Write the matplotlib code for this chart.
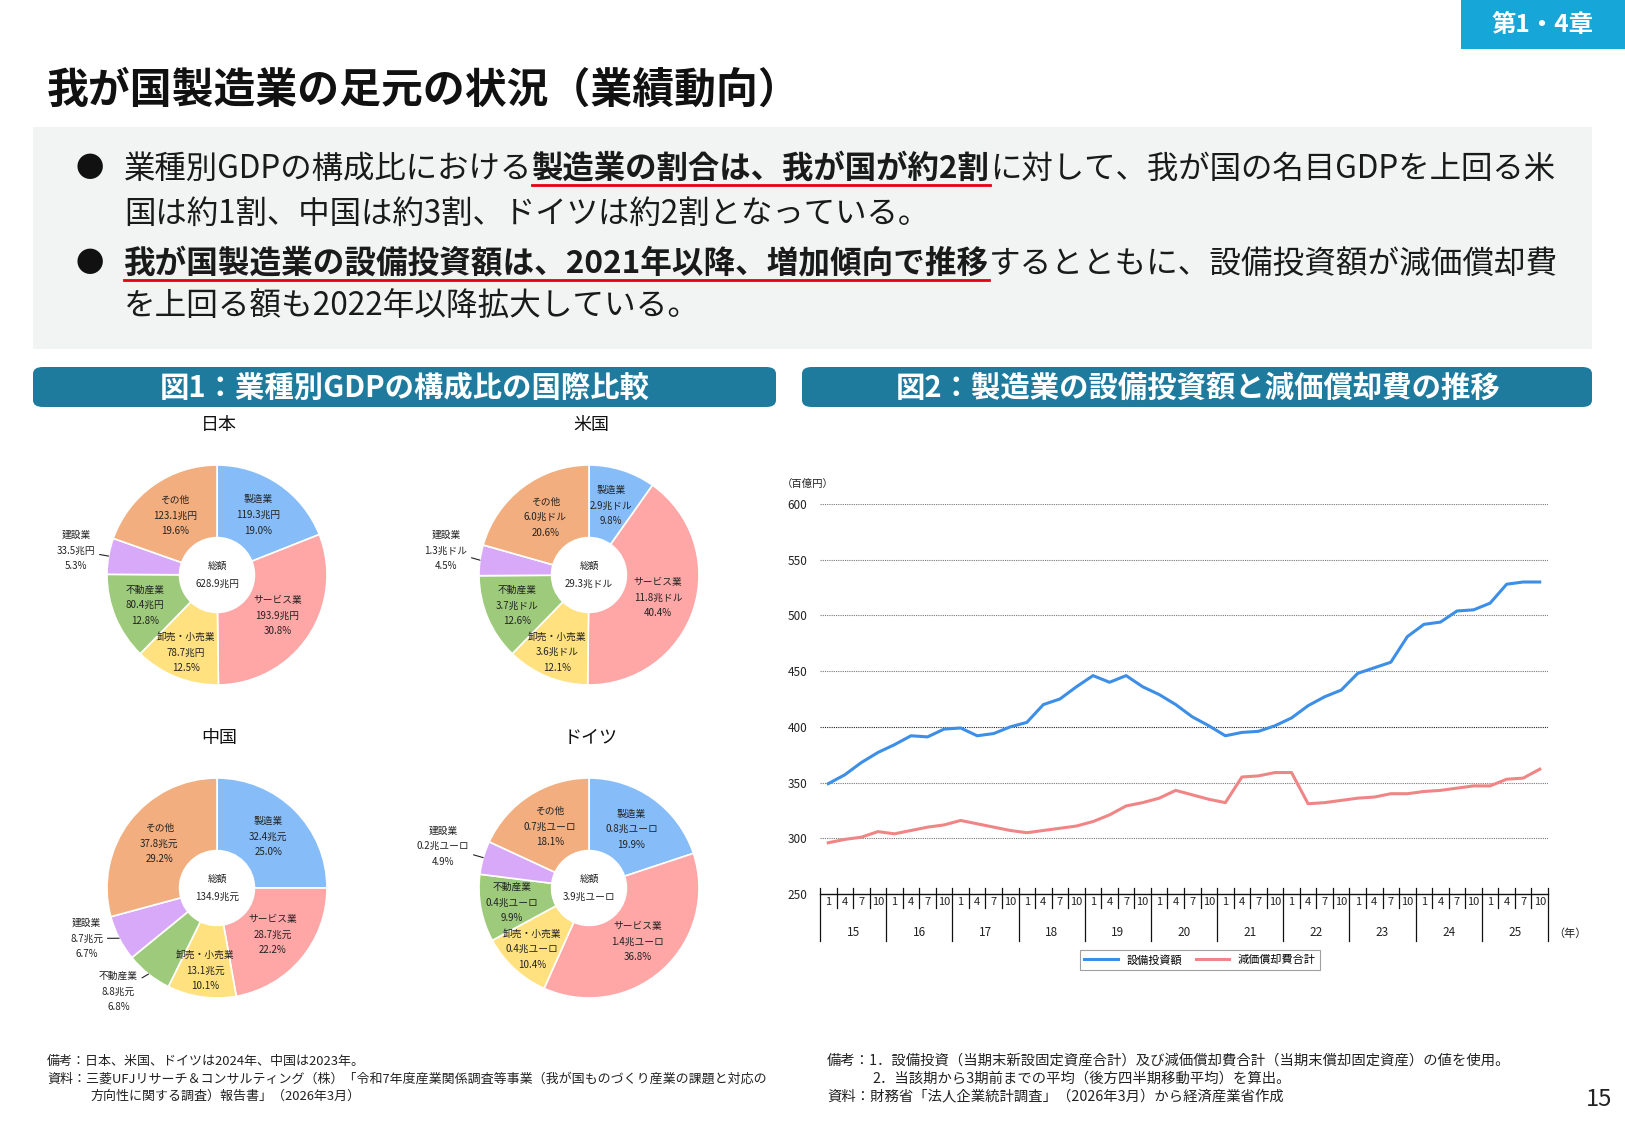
import numpy as np
import matplotlib
matplotlib.use("Agg")
import matplotlib.pyplot as plt
from matplotlib.patches import Rectangle, FancyBboxPatch
from matplotlib.lines import Line2D

plt.rcParams['font.family'] = ['Noto Sans CJK JP', 'DejaVu Sans']

W, H = 1625, 1125

# ---- データ ----
sectors = ["製造業", "サービス業", "卸売・小売業", "不動産業", "建設業", "その他"]
pie_colors = ["#86bdf9", "#ffa6a6", "#ffe27f", "#9ecb7b", "#d8a9f8", "#f2ae7e"]

jp_vals = [119.3, 193.9, 78.7, 80.4, 33.5, 123.1]
jp_pcts = [19.0, 30.8, 12.5, 12.8, 5.3, 19.6]
us_vals = [2.9, 11.8, 3.6, 3.7, 1.3, 6.0]
us_pcts = [9.8, 40.4, 12.1, 12.6, 4.5, 20.6]
cn_vals = [32.4, 28.7, 13.1, 8.8, 8.7, 37.8]
cn_pcts = [25.0, 22.2, 10.1, 6.8, 6.7, 29.2]
de_vals = [0.8, 1.4, 0.4, 0.4, 0.2, 0.7]
de_pcts = [19.9, 36.8, 10.4, 9.9, 4.9, 18.1]

# 設備投資額と減価償却費（百億円）、2015年1-3月期〜2025年10-12月期
capex = [349, 357, 368, 377, 384, 392, 391, 398,
         399, 392, 394, 400, 404, 420, 425, 436,
         446, 440, 446, 436, 429, 420, 409, 401,
         392, 395, 396, 401, 408, 419, 427, 433,
         448, 453, 458, 481, 492, 494, 504, 505,
         511, 528, 530, 530]
depr = [296, 299, 301, 306, 304, 307, 310, 312,
        316, 313, 310, 307, 305, 307, 309, 311,
        315, 321, 329, 332, 336, 343, 339, 335,
        332, 355, 356, 359, 359, 331, 332, 334,
        336, 337, 340, 340, 342, 343, 345, 347,
        347, 353, 354, 362]
quarters = ["1", "4", "7", "10"]
years = ["15", "16", "17", "18", "19", "20", "21", "22", "23", "24", "25"]

fig = plt.figure(figsize=(W / 100, H / 100), dpi=100)
fig.patch.set_facecolor("white")
fig.canvas.draw()
renderer = fig.canvas.get_renderer()


def fx(x):
    return x / W


def fy(y):
    return 1 - y / H


def text_width(s, size, bold=False):
    t = fig.text(0, 0, s, fontsize=size, fontweight="bold" if bold else "normal")
    w = t.get_window_extent(renderer).width
    t.remove()
    return w


def fit_size(s, width, bold=False, base=20):
    return base * width / text_width(s, base, bold)


def rect_px(x0, y0, x1, y1, color, rounded=False):
    if rounded:
        p = FancyBboxPatch((fx(x0), fy(y1)), fx(x1) - fx(x0), fy(y0) - fy(y1),
                           boxstyle="round,pad=0,rounding_size=0.006",
                           transform=fig.transFigure, facecolor=color, edgecolor="none")
    else:
        p = Rectangle((fx(x0), fy(y1)), fx(x1) - fx(x0), fy(y0) - fy(y1),
                      transform=fig.transFigure, facecolor=color, edgecolor="none")
    fig.add_artist(p)


# ---- ヘッダー ----
rect_px(1461, 0, 1625, 49, "#17a6d8")
s = fit_size("第1・4章", 102, bold=True)
fig.text(fx(1543), fy(25), "第1・4章", fontsize=s, fontweight="bold", color="white",
         ha="center", va="center")

title = "我が国製造業の足元の状況（業績動向）"
s = fit_size(title, 752, bold=True)
fig.text(fx(47), fy(91), title, fontsize=s, fontweight="bold", color="#111111",
         ha="left", va="center")

# ---- 要旨ボックス ----
rect_px(33, 127, 1592, 349, "#f2f4f4")

lines = [
    [("業種別GDPの構成比における", False), ("製造業の割合は、我が国が約2割", True),
     ("に対して、我が国の名目GDPを上回る米", False)],
    [("国は約1割、中国は約3割、ドイツは約2割となっている。", False)],
    [("我が国製造業の設備投資額は、2021年以降、増加傾向で推移", True),
     ("するとともに、設備投資額が減価償却費", False)],
    [("を上回る額も2022年以降拡大している。", False)],
]
line_y = [169, 214, 264, 306]


def segs_width(segs, size):
    return sum(text_width(t, size, b) for t, b in segs)


size1 = 20 * 1431 / segs_width(lines[0], 20)
size3 = 20 * 1431 / segs_width(lines[2], 20)
sizes = [size1, size1, size3, size3]

for segs, yc, sz in zip(lines, line_y, sizes):
    x = 124
    for t, b in segs:
        txt = fig.text(fx(x), fy(yc), t, fontsize=sz, fontweight="bold" if b else "normal",
                       color="#1a1a1a", ha="left", va="center")
        w = txt.get_window_extent(renderer).width
        if b:
            fig.add_artist(Line2D([fx(x), fx(x + w)], [fy(yc + 16)] * 2, color="#e60012",
                                  lw=2.0, transform=fig.transFigure))
        x += w

for yc in (line_y[0], line_y[2]):
    fig.text(fx(90), fy(yc), "●", fontsize=size1 * 0.9, color="#111111",
             ha="center", va="center")

# ---- 図タイトルバー ----
rect_px(33, 367, 776, 407, "#1f7b9d", rounded=True)
rect_px(802, 367, 1592, 407, "#1f7b9d", rounded=True)
h1 = "図1：業種別GDPの構成比の国際比較"
h2 = "図2：製造業の設備投資額と減価償却費の推移"
s1 = fit_size(h1, 489, bold=True)
fig.text(fx(405), fy(388), h1, fontsize=s1, fontweight="bold", color="white",
         ha="center", va="center")
fig.text(fx(1198), fy(388), h2, fontsize=s1, fontweight="bold", color="white",
         ha="center", va="center")

# ---- 円グラフ ----
R = 110
label_fs = 7.0
inner_r = {"卸売・小売業": 0.76, "不動産業": 0.71}


def draw_pie(cx, cy, name, vals, pcts, unit, total, outside):
    bw, bh = 360, 310
    ax = fig.add_axes([fx(cx - bw / 2), fy(cy + bh / 2), bw / W, bh / H])
    ax.pie(pcts, colors=pie_colors, startangle=90, counterclock=False, radius=R,
           wedgeprops=dict(width=R * 0.66, edgecolor="white", linewidth=1.2))
    ax.set_xlim(-bw / 2, bw / 2)
    ax.set_ylim(-bh / 2, bh / 2)
    ax.set_aspect("equal")
    ax.axis("off")
    cum = 0
    for sec, v, p in zip(sectors, vals, pcts):
        ang = np.deg2rad(90 - (cum + p / 2) * 3.6)
        cum += p
        lab = f"{sec}\n{v:.1f}{unit}\n{p:.1f}%"
        c, sn = np.cos(ang), np.sin(ang)
        if sec in outside:
            r_out, a_off = outside[sec]
            a2 = ang + np.deg2rad(a_off)
            ax.annotate(lab, xy=(R * c, R * sn),
                        xytext=(R * r_out * np.cos(a2), R * r_out * np.sin(a2)),
                        fontsize=label_fs, ha="center", va="center", linespacing=1.7,
                        color="#222222",
                        arrowprops=dict(arrowstyle="-", color="#222222", lw=0.8,
                                        shrinkA=1, shrinkB=0))
        else:
            rr = inner_r.get(sec, 0.66)
            ax.text(R * rr * c, R * rr * sn, lab, fontsize=label_fs, ha="center",
                    va="center", linespacing=1.7, color="#222222")
    ax.text(0, 0, f"総額\n{total}{unit}", fontsize=label_fs, ha="center", va="center",
            linespacing=2.0, color="#222222")
    fig.text(fx(cx + 2), fy(cy - 150), name, fontsize=13, ha="center", va="center",
             color="#111111")


draw_pie(217, 575, "日本", jp_vals, jp_pcts, "兆円", "628.9", {"建設業": (1.3, 0)})
draw_pie(589, 575, "米国", us_vals, us_pcts, "兆ドル", "29.3", {"建設業": (1.32, -2)})
draw_pie(217, 888, "中国", cn_vals, cn_pcts, "兆元", "134.9",
         {"建設業": (1.27, -6), "不動産業": (1.3, -5)})
draw_pie(589, 888, "ドイツ", de_vals, de_pcts, "兆ユーロ", "3.9", {"建設業": (1.38, 0)})

# ---- 折れ線グラフ ----
ax = fig.add_axes([fx(820), fy(894), (1548 - 820) / W, (894 - 504) / H])
x = np.arange(len(capex))
ax.plot(x, capex, color="#3d8ee6", lw=2.2, label="設備投資額")
ax.plot(x, depr, color="#f08585", lw=2.2, label="減価償却費合計")
ax.set_xlim(-0.5, len(capex) - 0.5)
ax.set_ylim(250, 600)
ax.set_yticks(range(250, 601, 50))
for yv in range(300, 601, 50):
    ax.axhline(yv, color="#222222" if yv == 400 else "#777777", lw=0.8,
               linestyle=(0, (1, 1)), zorder=0)
for sp in ["top", "right", "left"]:
    ax.spines[sp].set_visible(False)
ax.spines["bottom"].set_color("#111111")
ax.spines["bottom"].set_linewidth(1.0)
ax.tick_params(axis="y", length=0, labelsize=8.5, pad=9, labelcolor="#222222")
ax.set_xticks([])

trans = ax.get_xaxis_transform()
ah = 894 - 504
for i in range(len(capex) + 1):
    long = i % 4 == 0
    y_end = -(941 - 894) / ah if long else -(908 - 894) / ah
    ax.plot([i - 0.5, i - 0.5], [0.015, y_end], transform=trans, color="#111111",
            lw=0.9, clip_on=False)
for i in range(len(capex)):
    ax.text(i, -(902 - 894) / ah, quarters[i % 4], transform=trans, ha="center",
            va="center", fontsize=8, color="#222222")
for k, yr in enumerate(years):
    ax.text(4 * k + 1.5, -(933 - 894) / ah, yr, transform=trans, ha="center",
            va="center", fontsize=8.5, color="#222222")

fig.text(fx(1570), fy(934), "（年）", fontsize=8, ha="center", va="center", color="#222222")
fig.text(fx(808), fy(484), "（百億円）", fontsize=7.5, ha="center", va="center", color="#222222")

leg = ax.legend(loc="center", bbox_to_anchor=(fx(1200), fy(960)), bbox_transform=fig.transFigure,
                ncol=2, fontsize=8, frameon=True, fancybox=False, edgecolor="#888888",
                handlelength=3.0, columnspacing=1.2, borderpad=0.4)
leg.get_frame().set_linewidth(0.8)

# ---- 注記 ----
note_l2 = "資料：三菱UFJリサーチ＆コンサルティング（株）「令和7年度産業関係調査等事業（我が国ものづくり産業の課題と対応の"
nfs = fit_size(note_l2, 720)
note_r1 = "備考：1．設備投資（当期末新設固定資産合計）及び減価償却費合計（当期末償却固定資産）の値を使用。"
nfs_r = fit_size(note_r1, 681)
fig.text(fx(47), fy(1061), "備考：日本、米国、ドイツは2024年、中国は2023年。", fontsize=nfs,
         ha="left", va="center", color="#222222")
fig.text(fx(47), fy(1079), note_l2, fontsize=nfs, ha="left", va="center", color="#222222")
fig.text(fx(90), fy(1096), "方向性に関する調査）報告書」（2026年3月）", fontsize=nfs,
         ha="left", va="center", color="#222222")
fig.text(fx(827), fy(1061), note_r1, fontsize=nfs_r, ha="left", va="center", color="#222222")
fig.text(fx(872), fy(1079), "2．当該期から3期前までの平均（後方四半期移動平均）を算出。",
         fontsize=nfs_r, ha="left", va="center", color="#222222")
fig.text(fx(827), fy(1096), "資料：財務省「法人企業統計調査」（2026年3月）から経済産業省作成",
         fontsize=nfs_r, ha="left", va="center", color="#222222")
fig.text(fx(1612), fy(1099), "15", fontsize=17, ha="right", va="center", color="#222222")

fig.savefig("out.png", dpi=100)
